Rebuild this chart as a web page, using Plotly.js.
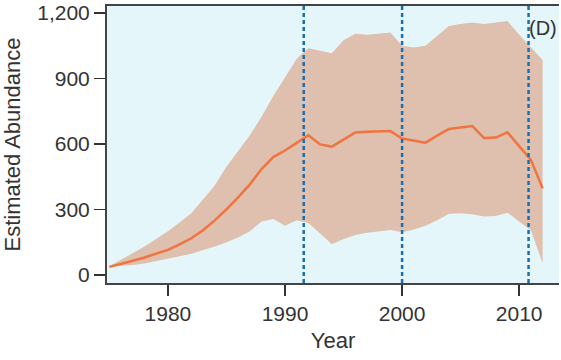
<!DOCTYPE html>
<html>
<head>
<meta charset="utf-8">
<script src="https://cdn.plot.ly/plotly-3.0.1.min.js"></script>
<style>html,body{margin:0;padding:0;background:#fff;}#chart{width:561px;height:360px;}</style>
</head>
<body>
<div id="chart"></div>
<script>
const years = [1975,1976,1977,1978,1979,1980,1981,1982,1983,1984,1985,1986,1987,1988,1989,1990,1991,1992,1993,1994,1995,1996,1997,1998,1999,2000,2001,2002,2003,2004,2005,2006,2007,2008,2009,2010,2011,2012];
const estimate = [37,50,65,80,97,115,140,168,205,250,300,355,415,485,540,570,605,640,598,588,620,653,656,658,659,625,614,606,638,669,675,682,627,629,653,590,527,397];
const upper = [40,70,100,130,165,200,240,283,345,410,495,565,640,725,820,905,990,1038,1027,1015,1075,1105,1100,1105,1111,1050,1042,1050,1095,1140,1150,1156,1150,1155,1163,1100,1040,985];
const lower = [37,40,45,52,62,73,85,97,112,130,150,172,200,245,256,225,250,238,190,140,165,183,193,200,206,196,208,225,250,280,283,278,268,270,285,245,205,54];
const vlines = [1991.6, 2000, 2010.8];
const xTicks = [1980, 1990, 2000, 2010];
const yTicks = [0, 300, 600, 900, 1200];
const yTickText = ["0", "300", "600", "900", "1,200"];
const panelLabel = "(D)";

const fam = "Liberation Sans, Arial, sans-serif";
const tickFont = {family: fam, size: 21, color: "#333"};
const titleFont = {family: fam, size: 22, color: "#333"};

const traces = [
  {x: years, y: lower, type: "scatter", mode: "lines", line: {width: 0, color: "rgba(0,0,0,0)"}, hoverinfo: "skip", showlegend: false},
  {x: years, y: upper, type: "scatter", mode: "lines", fill: "tonexty", fillcolor: "#dfbfad", line: {width: 0, color: "rgba(0,0,0,0)"}, showlegend: false},
  {x: years, y: estimate, type: "scatter", mode: "lines", line: {color: "#f07440", width: 2.5}, showlegend: false}
];

const shapes = vlines.map(v => ({type: "line", xref: "x", yref: "paper", x0: v, x1: v, y0: 0, y1: 1, layer: "above", line: {color: "#1a6fae", width: 2.5, dash: "4px,3px"}}));

const layout = {
  width: 561, height: 360,
  margin: {l: 107, r: 2, t: 6, b: 77},
  paper_bgcolor: "#ffffff",
  plot_bgcolor: "#e4f6fa",
  font: tickFont,
  showlegend: false,
  xaxis: {
    range: [1974.8, 2013.4],
    tickvals: xTicks, ticktext: xTicks.map(String),
    ticks: "outside", ticklen: 11, tickwidth: 1.5, tickcolor: "#333",
    showline: true, linecolor: "#444", linewidth: 2, mirror: true,
    showgrid: false, zeroline: false,
    tickfont: tickFont,
    title: {text: "Year", font: titleFont, standoff: 8}
  },
  yaxis: {
    range: [-37, 1232],
    tickvals: yTicks, ticktext: yTickText,
    ticks: "outside", ticklen: 11, tickwidth: 1.5, tickcolor: "#333",
    showline: true, linecolor: "#444", linewidth: 2,
    showgrid: false, zeroline: false,
    tickfont: tickFont,
    title: {text: "Estimated Abundance", font: titleFont, standoff: 12}
  },
  shapes: shapes,
  annotations: [{xref: "paper", yref: "paper", x: 1, y: 0.92, xanchor: "right", yanchor: "middle", text: panelLabel, showarrow: false, font: {family: fam, size: 20, color: "#333"}}]
};

Plotly.newPlot("chart", traces, layout, {displayModeBar: false, staticPlot: true});
</script>
</body>
</html>
